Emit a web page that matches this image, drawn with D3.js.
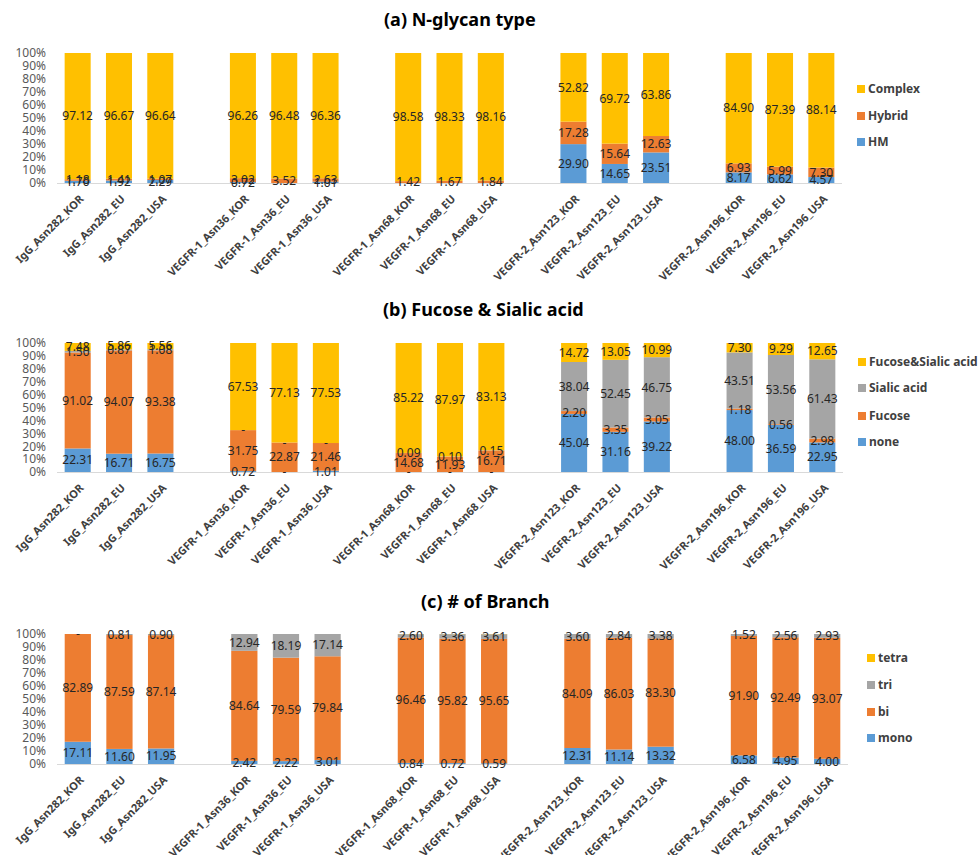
<!DOCTYPE html>
<html><head><meta charset="utf-8">
<script src="https://cdn.jsdelivr.net/npm/d3@7"></script>
<style>
body{margin:0;background:#fff;}
text{font-family:"Noto Sans","Open Sans",sans-serif;}
</style></head>
<body>
<svg id="chart" width="978" height="855"></svg>
<script>
// ---- data ----
const categories = ["IgG_Asn282_KOR","IgG_Asn282_EU","IgG_Asn282_USA",
  "VEGFR-1_Asn36_KOR","VEGFR-1_Asn36_EU","VEGFR-1_Asn36_USA",
  "VEGFR-1_Asn68_KOR","VEGFR-1_Asn68_EU","VEGFR-1_Asn68_USA",
  "VEGFR-2_Asn123_KOR","VEGFR-2_Asn123_EU","VEGFR-2_Asn123_USA",
  "VEGFR-2_Asn196_KOR","VEGFR-2_Asn196_EU","VEGFR-2_Asn196_USA"];
const yTicks = [0,10,20,30,40,50,60,70,80,90,100];

// (a) N-glycan type
const aSeriesNames = ["HM","Hybrid","Complex"];
const aHM      = [1.70,1.92,2.29,0.72,null,1.01,null,null,null,29.90,14.65,23.51,8.17,6.62,4.57];
const aHybrid  = [1.18,1.41,1.07,3.02,3.52,2.63,1.42,1.67,1.84,17.28,15.64,12.63,6.93,5.99,7.30];
const aComplex = [97.12,96.67,96.64,96.26,96.48,96.36,98.58,98.33,98.16,52.82,69.72,63.86,84.90,87.39,88.14];

// (b) Fucose & Sialic acid
const bSeriesNames = ["none","Fucose","Sialic acid","Fucose&Sialic acid"];
const bNone   = [22.31,16.71,16.75,0.72,0,1.01,0,0,0,45.04,31.16,39.22,48.00,36.59,22.95];
const bFucose = [91.02,94.07,93.38,31.75,22.87,21.46,14.68,11.93,16.71,2.20,3.35,3.05,1.18,0.56,2.98];
const bSialic = [1.50,0.87,1.08,0,0,0,0.09,0.10,0.15,38.04,52.45,46.75,43.51,53.56,61.43];
const bFucSia = [7.48,5.86,5.56,67.53,77.13,77.53,85.22,87.97,83.13,14.72,13.05,10.99,7.30,9.29,12.65];

// (c) # of Branch
const cSeriesNames = ["mono","bi","tri","tetra"];
const cMono  = [17.11,11.60,11.95,2.42,2.22,3.01,0.84,0.72,0.59,12.31,11.14,13.32,6.58,4.95,4.00];
const cBi    = [82.89,87.59,87.14,84.64,79.59,79.84,96.46,95.82,95.65,84.09,86.03,83.30,91.90,92.49,93.07];
const cTri   = [0,0.81,0.90,12.94,18.19,17.14,2.60,3.36,3.61,3.60,2.84,3.38,1.52,2.56,2.93];
const cTetra = [0,0,0,0,0,0,0.10,0.10,0.15,0,0,0,0,0,0];

const colors = ["#5B9BD5","#ED7D31","#A5A5A5","#FFC000"];
const aColors = ["#5B9BD5","#ED7D31","#FFC000"];

// ---- drawing ----
const svg = d3.select("#chart");
const fmt = d3.format(".2f");

// slot domain with a blank gap between each group of three
const slotDomain = categories.flatMap((c,i)=> (i>0 && i%3===0) ? ["gap"+i, c] : [c]);

function panel(opt){
  const g = svg.append("g");
  const x = d3.scaleBand().domain(slotDomain).range([opt.x0,opt.x1]).paddingInner(0.37).paddingOuter(0.185);
  const y = d3.scaleLinear().domain([0,100]).range([opt.y0,opt.y1]);

  // title
  g.append("text").attr("x",opt.tx).attr("y",opt.ty).attr("dy","0.35em")
    .attr("font-size",18).attr("font-weight","bold").attr("fill","#000").text(opt.title);

  // y axis
  const ya = g.append("g").attr("transform",`translate(${opt.x0},0)`)
    .call(d3.axisLeft(y).tickValues(yTicks).tickFormat(d=>d+"%").tickSize(0).tickPadding(11));
  ya.select(".domain").remove();
  ya.selectAll("text").attr("font-size",12).attr("fill","#595959")
    .attr("font-family",'"Noto Sans",sans-serif');

  // rows -> normalized stack
  const rows = categories.map((c,i)=>{
    const r = {cat:c};
    opt.series.forEach((s,k)=>{ r[opt.names[k]] = s[i]; });
    return r;
  });
  const stack = d3.stack().keys(opt.names).value((d,k)=> d[k]==null?0:d[k]).offset(d3.stackOffsetExpand);
  const layers = stack(rows);

  layers.forEach((layer,k)=>{
    g.append("g").selectAll("rect").data(layer).join("rect")
      .attr("x",d=>x(d.data.cat)).attr("width",x.bandwidth())
      .attr("y",d=>y(d[1]*100)).attr("height",d=>Math.max(0,y(d[0]*100)-y(d[1]*100)))
      .attr("fill",opt.colors[k]);
  });

  // baseline
  g.append("line").attr("x1",opt.x0).attr("x2",opt.x1).attr("y1",opt.y0+0.5).attr("y2",opt.y0+0.5)
    .attr("stroke","#D9D9D9").attr("stroke-width",1);

  // data labels
  layers.forEach((layer,k)=>{
    if(opt.hideLabel && opt.hideLabel[k]) return;
    g.append("g").selectAll("text").data(layer.filter(d=>d.data[opt.names[k]]!=null)).join("text")
      .attr("x",d=>x(d.data.cat)+x.bandwidth()/2)
      .attr("y",d=>(y(d[0]*100)+y(d[1]*100))/2)
      .attr("dy","0.35em").attr("text-anchor","middle")
      .attr("font-size",12).attr("fill","#262626")
      .text(d=>{const v=d.data[opt.names[k]]; return v===0?"-":fmt(v);});
  });

  // x labels
  g.append("g").selectAll("text").data(categories).join("text")
    .attr("transform",d=>`translate(${x(d)+x.bandwidth()/2+4},${opt.y0+14}) rotate(-45)`)
    .attr("dy","0.35em").attr("text-anchor","end")
    .attr("font-size",11).attr("font-weight","bold").attr("fill","#404040").text(d=>d);

  // legend (top-down reversed)
  const leg = g.append("g");
  opt.names.slice().reverse().forEach((n,i)=>{
    const k = opt.names.length-1-i;
    leg.append("rect").attr("x",opt.lx).attr("y",opt.ly[i]-4).attr("width",8).attr("height",8).attr("fill",opt.colors[k]);
    leg.append("text").attr("x",opt.lx+11).attr("y",opt.ly[i]).attr("dy","0.35em")
      .attr("font-size",12).attr("font-weight","bold").attr("fill","#404040").text(n);
  });
}

panel({title:"(a) N-glycan type",tx:384,ty:20,x0:57,x1:842,y0:183,y1:53,
  names:aSeriesNames,series:[aHM,aHybrid,aComplex],colors:aColors,
  lx:857,ly:[89,116,142]});
panel({title:"(b) Fucose & Sialic acid",tx:383,ty:310,x0:57,x1:843,y0:472,y1:343,
  names:bSeriesNames,series:[bNone,bFucose,bSialic,bFucSia],colors:colors,
  lx:858,ly:[362,388,416,442]});
panel({title:"(c) # of Branch",tx:421,ty:602,x0:57,x1:848,y0:764,y1:634,
  names:cSeriesNames,series:[cMono,cBi,cTri,cTetra],colors:colors,
  hideLabel:[false,false,false,true],
  lx:867,ly:[658,685,712,738]});
</script>
</body></html>
